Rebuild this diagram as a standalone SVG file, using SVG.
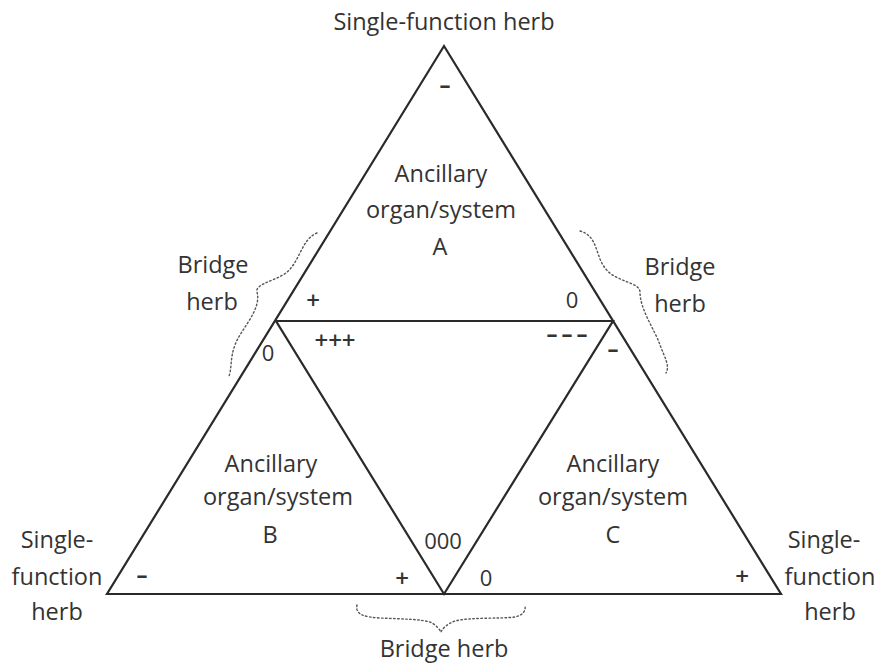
<svg xmlns="http://www.w3.org/2000/svg" width="880" height="666" viewBox="0 0 880 666">
<style>
text{font-family:"Open Sans","Liberation Sans",sans-serif;font-size:23.5px;fill:#333;text-anchor:middle}
.ln{fill:none;stroke:#2a2a2a;stroke-width:2.2;stroke-linejoin:miter}
.dot{fill:none;stroke:#555;stroke-width:1.4;stroke-dasharray:1.5 2.5;stroke-linecap:round}
.sym{font-size:22px}
.plus{font-size:24px;font-weight:600}
.dash{font-size:22px;font-weight:700}
</style>
<rect width="880" height="666" fill="#fff"/>
<g id="connectors">
<polygon class="ln" points="444,46 107,594 781,594"/>
<polygon class="ln" points="276,321 613,321 444,594"/>
<path class="dot" d="M317,233 C300,240 300,265 283,275 C270,282 255,285 257,292 C262,310 240,330 235,345 C230,358 232,368 229,376"/>
<path class="dot" d="M580,231 C598,236 595,255 605,268 C615,282 640,282 640,292 C640,310 655,330 660,345 C665,358 670,366 666,373"/>
<path class="dot" d="M357,605 C355,615 365,617 380,618 C400,619 425,619 432,623 C437,626 440,630 441,632 C443,628 447,624 455,621 C470,617 500,619 515,617 C523,615 526,611 525,605"/>
</g>
<g id="outer-top-label"><text x="444" y="30">Single-function herb</text></g>
<g id="node-A">
<text x="441" y="182">Ancillary</text>
<text x="441" y="218">organ/system</text>
<text x="440" y="255">A</text>
</g>
<g id="node-B">
<text x="271" y="472">Ancillary</text>
<text x="278" y="505">organ/system</text>
<text x="270" y="543">B</text>
</g>
<g id="node-C">
<text x="613" y="472">Ancillary</text>
<text x="613" y="505">organ/system</text>
<text x="613" y="543">C</text>
</g>
<g id="signs">
<text class="dash" x="445" y="93">–</text>
<text class="plus" x="313" y="309">+</text>
<text class="sym" x="572" y="308">0</text>
<text class="plus" x="335" y="349">+++</text>
<text class="sym" x="268" y="361">0</text>
<text class="dash" x="567" y="342" textLength="41" lengthAdjust="spacing">–––</text>
<text class="dash" x="613" y="357">–</text>
<text class="sym" x="443" y="549">000</text>
<text class="plus" x="402" y="587">+</text>
<text class="sym" x="486" y="586">0</text>
<text class="dash" x="142" y="583">–</text>
<text class="plus" x="742" y="585">+</text>
</g>
<g id="label-left">
<text x="57" y="548">Single-</text>
<text x="57" y="585">function</text>
<text x="57" y="620">herb</text>
</g>
<g id="label-right">
<text x="824" y="548">Single-</text>
<text x="830" y="585">function</text>
<text x="830" y="620">herb</text>
</g>
<g id="bridge-left">
<text x="213" y="273">Bridge</text>
<text x="212" y="310">herb</text>
</g>
<g id="bridge-right">
<text x="680" y="275">Bridge</text>
<text x="680" y="312">herb</text>
</g>
<g id="bridge-bottom"><text x="444" y="657">Bridge herb</text></g>
</svg>
